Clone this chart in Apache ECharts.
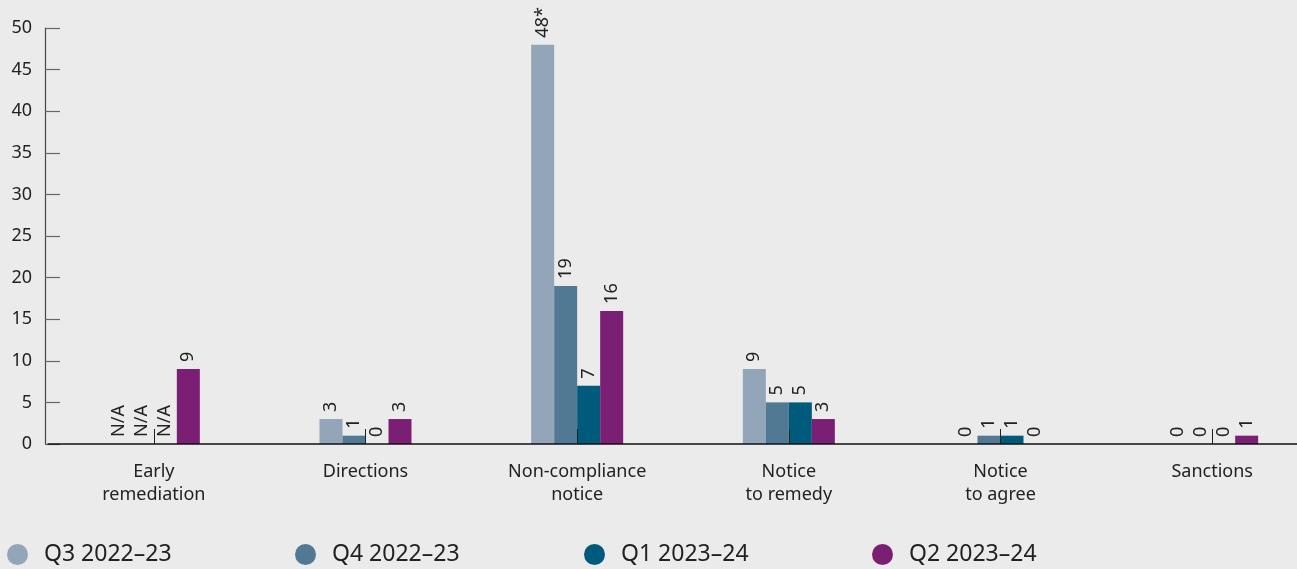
<!DOCTYPE html>
<html>
<head>
<meta charset="utf-8">
<script src="https://cdn.jsdelivr.net/npm/echarts@6/dist/echarts.min.js"></script>
<style>
html,body{margin:0;padding:0;background:#ebebeb;overflow:hidden;width:1297px;height:569px;}
#c{width:1318px;height:569px;}
</style>
</head>
<body>
<div id="c"></div>
<script>
const categories = ['Early\nremediation', 'Directions', 'Non-compliance\nnotice', 'Notice\nto remedy', 'Notice\nto agree', 'Sanctions'];
const seriesNames = ['Q3 2022–23', 'Q4 2022–23', 'Q1 2023–24', 'Q2 2023–24'];
const q3 = [null, 3, 48, 9, 0, 0];
const q4 = [null, 1, 19, 5, 1, 0];
const q1 = [null, 0, 7, 5, 1, 0];
const q2 = [9, 3, 16, 3, 0, 1];
const q3Notes = ['', '', '*', '', '', ''];
const yTicks = [0, 5, 10, 15, 20, 25, 30, 35, 40, 45, 50];

const colors = ['#93a5b9', '#527993', '#005a7b', '#7a1f73'];
const allValues = [q3, q4, q1, q2];
const notes = [q3Notes, ['', '', '', '', '', ''], ['', '', '', '', '', ''], ['', '', '', '', '', '']];
const font = '"Noto Sans", "Open Sans", sans-serif';

const series = allValues.map((vals, si) => ({
  name: seriesNames[si],
  type: 'bar',
  barWidth: 23,
  barGap: '0%',
  itemStyle: { color: colors[si] },
  data: vals.map(v => (v === null ? 0 : v)),
  label: {
    show: true,
    position: 'top',
    rotate: 90,
    align: 'left',
    verticalAlign: 'middle',
    distance: 7,
    fontFamily: font,
    fontSize: 18,
    color: '#222',
    formatter: p => (vals[p.dataIndex] === null ? 'N/A' : String(vals[p.dataIndex]) + notes[si][p.dataIndex])
  }
}));

const legendLefts = [7, 295, 584, 872];
const legends = seriesNames.map((n, i) => ({
  data: [n],
  left: legendLefts[i],
  top: 543,
  padding: 0,
  icon: 'circle',
  itemWidth: 21,
  itemHeight: 21,
  selectedMode: false,
  textStyle: { fontFamily: font, fontSize: 23, color: '#222', padding: [0, 0, 0, 11] }
}));

const chart = echarts.init(document.getElementById('c'), null, { renderer: 'canvas' });
chart.setOption({
  backgroundColor: '#ebebeb',
  animation: false,
  color: colors,
  legend: legends,
  grid: { left: 48, top: 28, bottom: 125, right: 0, containLabel: false },
  xAxis: {
    type: 'category',
    data: categories,
    z: 5,
    axisLine: { lineStyle: { color: '#111', width: 1.5 } },
    axisTick: { show: true, inside: true, length: 15, alignWithLabel: true, lineStyle: { color: '#222', width: 1 } },
    axisLabel: { fontFamily: font, fontSize: 18, color: '#222', lineHeight: 23, margin: 16, interval: 0 }
  },
  yAxis: {
    type: 'value',
    min: yTicks[0],
    max: yTicks[yTicks.length - 1],
    interval: 5,
    offset: 3,
    splitLine: { show: false },
    axisLine: { show: true, lineStyle: { color: '#444', width: 1.2 } },
    axisTick: { show: true, inside: true, length: 15, lineStyle: { color: '#666', width: 1.2 } },
    axisLabel: { fontFamily: font, fontSize: 18, color: '#222', margin: 13 }
  },
  series: series
});
</script>
</body>
</html>
